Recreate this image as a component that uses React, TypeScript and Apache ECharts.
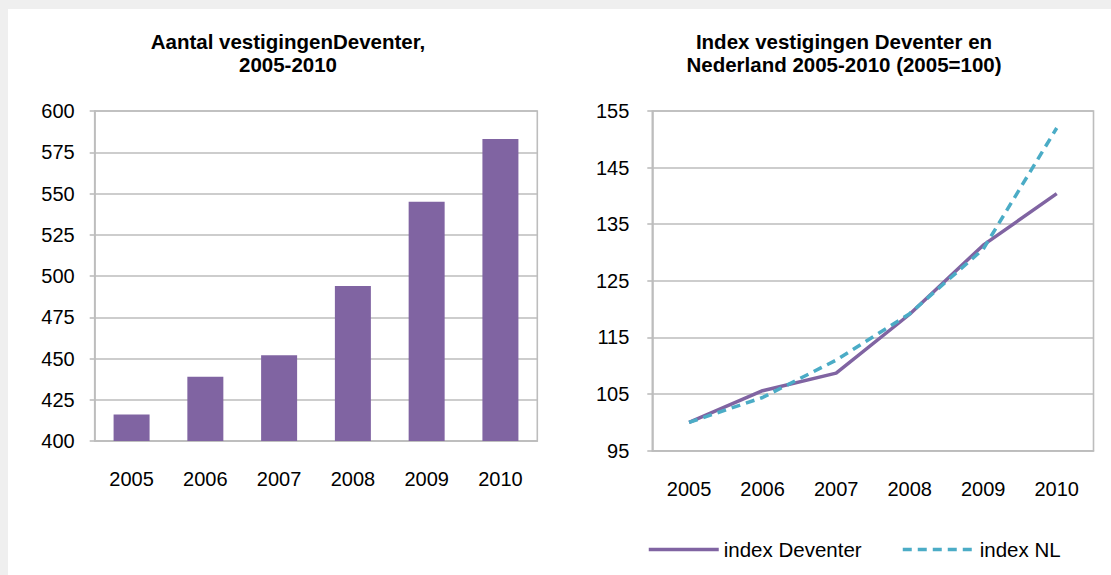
import React, { useEffect, useRef } from 'react';
import * as echarts from 'echarts';

const years = ['2005', '2006', '2007', '2008', '2009', '2010'];
const vestigingen = [416, 439, 452, 494, 545, 583];
const indexDeventer = [100, 105.6, 108.7, 119.1, 131.3, 140.4];
const indexNL = [100, 104.4, 111.0, 119.2, 130.6, 152.0];
const rightTicks = [95, 105, 115, 125, 135, 145, 155];
const titleLeft = 'Aantal vestigingenDeventer,\n2005-2010';
const titleRight = 'Index vestigingen Deventer en\nNederland 2005-2010 (2005=100)';
const seriesNames = ['index Deventer', 'index NL'];

export default function App() {
  const ref = useRef<HTMLDivElement>(null);
  useEffect(() => {
    document.body.style.margin = '0';
    const chart = echarts.init(ref.current!, null, { renderer: 'svg' });
    const gray = '#bdbdbd';
    const font = '"Liberation Sans", Arial, sans-serif';
    const axisLabel = { color: '#000', fontSize: 20, fontFamily: font };
    const legendCommon = {
      top: 534, itemHeight: 14,
      itemStyle: { opacity: 0 },
      lineStyle: { width: 3.5 },
      textStyle: { fontSize: 20.5, color: '#000', fontFamily: font },
    };
    chart.setOption({
      animation: false,
      backgroundColor: '#efefef',
      textStyle: { fontFamily: font },
      graphic: [
        { type: 'rect', z: -100, silent: true, shape: { x: 8, y: 9, width: 1103, height: 566 }, style: { fill: '#ffffff' } },
        { type: 'text', x: 288, y: 30, style: { text: titleLeft, textAlign: 'center', textVerticalAlign: 'top', fontSize: 20.5, fontWeight: 'bold', fontFamily: font, lineHeight: 23, fill: '#000' } },
        { type: 'text', x: 844, y: 30, style: { text: titleRight, textAlign: 'center', textVerticalAlign: 'top', fontSize: 20.5, fontWeight: 'bold', fontFamily: font, lineHeight: 23, fill: '#000' } },
      ],
      legend: [
        { ...legendCommon, data: [seriesNames[0]], left: 642, itemWidth: 70 },
        { ...legendCommon, data: [seriesNames[1]], left: 896, itemWidth: 72 },
      ],
      grid: [
        { left: 94.7, top: 111, width: 442.6, height: 330, show: true, borderColor: gray, borderWidth: 1.6 },
        { left: 652.3, top: 111, width: 441.2, height: 339.7, show: true, borderColor: gray, borderWidth: 1.6 },
      ],
      xAxis: [
        { gridIndex: 0, type: 'category', data: years, axisLine: { lineStyle: { color: gray, width: 1.6 } }, axisTick: { alignWithLabel: true, length: 5, lineStyle: { color: gray, width: 1.6 } }, axisLabel: { ...axisLabel, margin: 28 } },
        { gridIndex: 1, type: 'category', data: years, axisLine: { lineStyle: { color: gray, width: 1.6 } }, axisTick: { alignWithLabel: true, length: 5, lineStyle: { color: gray, width: 1.6 } }, axisLabel: { ...axisLabel, margin: 28 } },
      ],
      yAxis: [
        { gridIndex: 0, type: 'value', min: 400, max: 600, interval: 25, axisLine: { show: true, lineStyle: { color: gray, width: 1.6 } }, axisTick: { show: true, length: 5, lineStyle: { color: gray, width: 1.6 } }, splitLine: { show: true, lineStyle: { color: gray, width: 1.6 } }, axisLabel: { ...axisLabel, margin: 20 } },
        { gridIndex: 1, type: 'value', min: 95, max: 155, axisLine: { show: true, lineStyle: { color: gray, width: 1.6 } }, axisTick: { show: true, length: 5, customValues: rightTicks, lineStyle: { color: gray, width: 1.6 } }, splitLine: { show: true, lineStyle: { color: gray, width: 1.6 } }, axisLabel: { ...axisLabel, margin: 23, customValues: rightTicks } },
      ],
      series: [
        { type: 'bar', name: 'vestigingen', xAxisIndex: 0, yAxisIndex: 0, data: vestigingen, barWidth: 36, itemStyle: { color: '#8064A2' } },
        { type: 'line', name: seriesNames[0], xAxisIndex: 1, yAxisIndex: 1, data: indexDeventer, symbol: 'none', color: '#8064A2', lineStyle: { color: '#8064A2', width: 3.5 } },
        { type: 'line', name: seriesNames[1], xAxisIndex: 1, yAxisIndex: 1, data: indexNL, symbol: 'none', color: '#4BACC6', lineStyle: { color: '#4BACC6', width: 3.5, type: [9, 6] } },
      ],
    });
    return () => chart.dispose();
  }, []);
  return <div ref={ref} style={{ position: 'absolute', left: 0, top: 0, width: 1111, height: 575 }} />;
}
